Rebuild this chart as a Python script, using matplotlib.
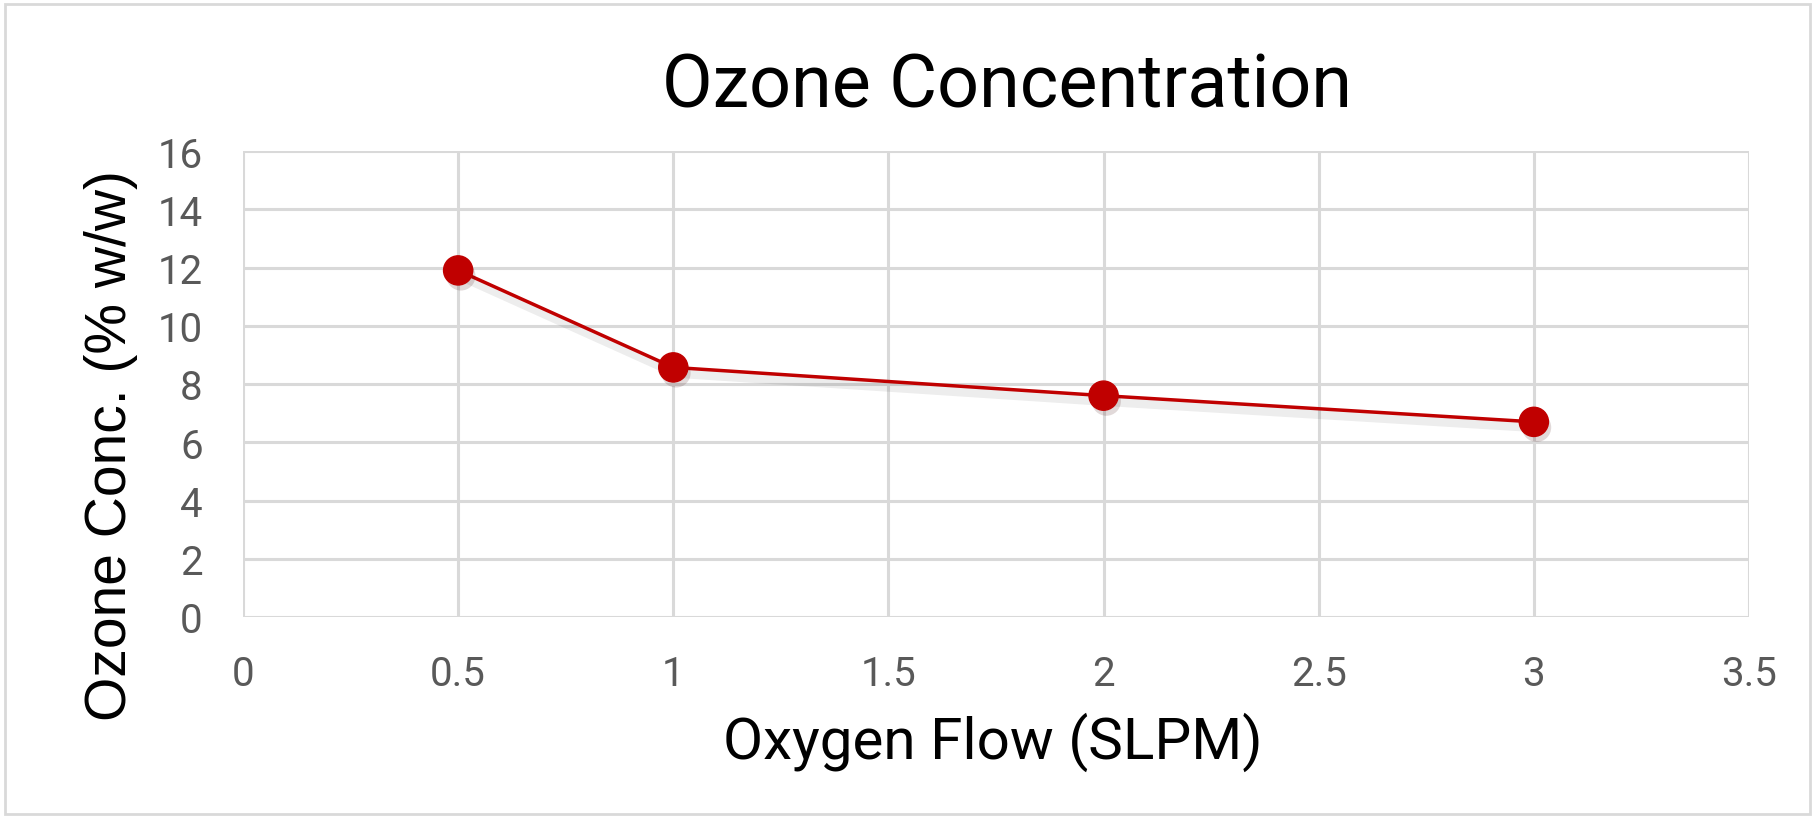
"""Ozone concentration vs oxygen flow, recreated with matplotlib."""

import matplotlib
matplotlib.use("Agg")
import matplotlib.pyplot as plt
import matplotlib.patheffects as pe
from matplotlib.patches import FancyBboxPatch

oxygen_flow = [0.5, 1, 2, 3]
ozone_conc = [11.9, 8.57, 7.6, 6.7]
x_ticks = [0, 0.5, 1, 1.5, 2, 2.5, 3, 3.5]
x_tick_labels = ["0", "0.5", "1", "1.5", "2", "2.5", "3", "3.5"]
y_ticks = [0, 2, 4, 6, 8, 10, 12, 14, 16]

RED = "#C00000"
GRID = "#D9D9D9"
TICK = "#595959"

plt.rcParams["font.family"] = ["Roboto", "DejaVu Sans"]

W, H = 1815, 820
fig = plt.figure(figsize=(W / 100, H / 100), dpi=100)
ax = fig.add_axes([243 / W, 1 - 618 / H, (1749 - 243) / W, (618 - 152) / H])

ax.set_xlim(0, 3.5)
ax.set_ylim(0, 16)
ax.set_xticks(x_ticks)
ax.set_xticklabels(x_tick_labels)
ax.set_yticks(y_ticks)
ax.grid(True, color=GRID, lw=2.2)
ax.set_axisbelow(True)
for s in ax.spines.values():
    s.set_visible(False)
ax.tick_params(length=0, labelsize=29, labelcolor=TICK)
ax.tick_params(axis="x", pad=27)
ax.tick_params(axis="y", pad=29)

# soft drop shadow under the series, like the office-chart look
shadow = [pe.SimpleLineShadow(offset=(2, -4), shadow_color="black", alpha=0.07, linewidth=7), pe.Normal()]
ax.plot(oxygen_flow, ozone_conc, color=RED, lw=2.5, path_effects=shadow, zorder=3)
ax.plot(oxygen_flow, ozone_conc, ls="none", marker="o", ms=21, color=RED, mec=RED,
        path_effects=[pe.SimplePatchShadow(offset=(2, -4), alpha=0.15), pe.Normal()], zorder=4)

fig.text(1007 / W, 1 - 87 / H, "Ozone Concentration", ha="center", va="center",
         fontsize=53, color="black")
fig.text(993 / W, 1 - 742 / H, "Oxygen Flow (SLPM)", ha="center", va="center",
         fontsize=42, color="black")
fig.text(111 / W, 1 - 446 / H, "Ozone Conc. (% w/w)", ha="center", va="center",
         rotation=90, fontsize=41, color="black", fontfamily=["Liberation Sans"])

# thin frame around the whole chart
fig.patches.append(FancyBboxPatch((5 / W, 5 / H), 1 - 10 / W, 1 - 10 / H,
                                  boxstyle="square,pad=0", transform=fig.transFigure,
                                  fill=False, ec=GRID, lw=2))

fig.savefig("out.png", dpi=100)
